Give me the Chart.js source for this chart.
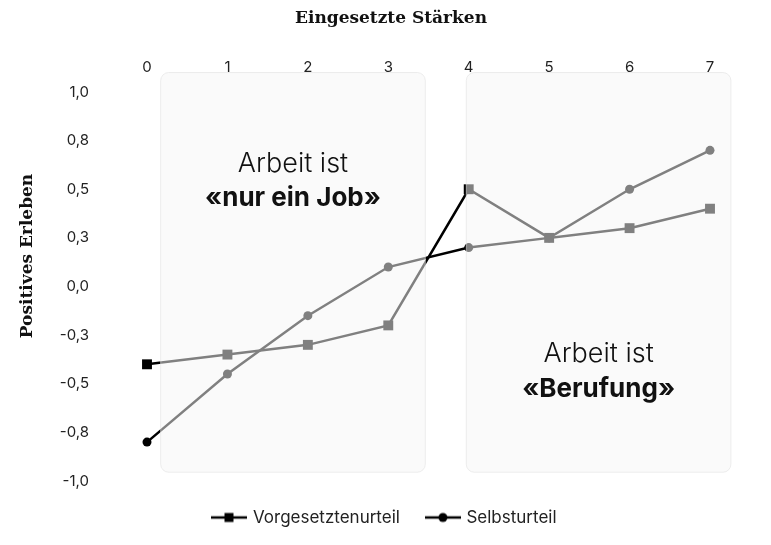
<!DOCTYPE html>
<html><head><meta charset="utf-8">
<script src="https://cdn.jsdelivr.net/npm/chart.js@4"></script>
<style>html,body{margin:0;padding:0;background:#fff;overflow:hidden}#wrap{width:771px;height:545px;position:relative}</style>
</head><body><div id="wrap"><canvas id="c" width="771" height="545"></canvas></div>
<script>
// ---- data ----
const categories = [0, 1, 2, 3, 4, 5, 6, 7];
const vorgesetztenurteil = [-0.40, -0.35, -0.30, -0.20, 0.50, 0.25, 0.30, 0.40];
const selbsturteil = [-0.80, -0.45, -0.15, 0.10, 0.20, 0.25, 0.50, 0.70];
const yTicks = [-1, -0.75, -0.5, -0.25, 0, 0.25, 0.5, 0.75, 1];
const seriesNames = ['Vorgesetztenurteil', 'Selbsturteil'];
const xTitle = 'Eingesetzte Stärken';
const yTitle = 'Positives Erleben';
const panelTexts = [['Arbeit ist', '«nur ein Job»'], ['Arbeit ist', '«Berufung»']];

// ---- decoration (panel extents in axis units) ----
const panels = [
  {x0: 0.17, x1: 3.46, y0: 1.10, y1: -0.955},
  {x0: 3.97, x1: 7.26, y0: 1.10, y1: -0.955}
];
const panelTextPos = [{x: 1.815, y1: 0.63, y2: 0.455}, {x: 5.615, y1: -0.345, y2: -0.53}];

const SANS = "Inter, 'Noto Sans', sans-serif";
const SERIF = "'DejaVu Serif', 'Liberation Serif', serif";

function legendIcon(kind) {
  const c = document.createElement('canvas');
  c.width = 36; c.height = 12;
  const g = c.getContext('2d');
  g.strokeStyle = '#000'; g.lineWidth = 2.5;
  g.beginPath(); g.moveTo(0, 6); g.lineTo(36, 6); g.stroke();
  g.fillStyle = '#000';
  if (kind === 'rect') g.fillRect(13, 1.5, 9, 9);
  else { g.beginPath(); g.arc(18, 6, 4.5, 0, Math.PI * 2); g.fill(); }
  return c;
}
const icons = [legendIcon('rect'), legendIcon('circle')];

const overlayPlugin = {
  id: 'overlay',
  afterDatasetsDraw(chart) {
    const ctx = chart.ctx, xs = chart.scales.x, ys = chart.scales.y;
    ctx.save();
    panels.forEach((p, i) => {
      const l = xs.getPixelForValue(p.x0), r = xs.getPixelForValue(p.x1);
      const t = ys.getPixelForValue(p.y0), b = ys.getPixelForValue(p.y1);
      ctx.beginPath();
      ctx.roundRect(l, t, r - l, b - t, 8);
      ctx.fillStyle = 'rgba(245,245,245,0.52)';
      ctx.fill();
      ctx.strokeStyle = 'rgba(225,225,225,0.6)';
      ctx.lineWidth = 1;
      ctx.stroke();
      const tp = panelTextPos[i];
      ctx.fillStyle = '#111';
      ctx.textAlign = 'center';
      ctx.textBaseline = 'middle';
      ctx.font = "300 27px " + SANS;
      ctx.fillText(panelTexts[i][0], xs.getPixelForValue(tp.x), ys.getPixelForValue(tp.y1));
      ctx.font = "bold 26px " + SANS;
      ctx.fillText(panelTexts[i][1], xs.getPixelForValue(tp.x), ys.getPixelForValue(tp.y2));
    });
    ctx.restore();
  },
  afterDraw(chart) {
    const ctx = chart.ctx;
    ctx.save();
    ctx.fillStyle = '#111';
    ctx.font = "bold 17px " + SERIF;
    ctx.textAlign = 'center';
    ctx.textBaseline = 'middle';
    ctx.fillText(xTitle, 391, 19);
    ctx.translate(28, 256);
    ctx.rotate(-Math.PI / 2);
    ctx.fillText(yTitle, 0, 0);
    ctx.restore();
  }
};

const mkData = arr => categories.map((c, i) => ({x: c, y: arr[i]}));

new Chart(document.getElementById('c'), {
  type: 'line',
  data: {
    datasets: [
      {label: seriesNames[0], data: mkData(vorgesetztenurteil), borderColor: '#000', backgroundColor: '#000',
       borderWidth: 2.5, pointStyle: 'rect', pointRadius: 7, pointBorderWidth: 0, tension: 0, clip: false},
      {label: seriesNames[1], data: mkData(selbsturteil), borderColor: '#000', backgroundColor: '#000',
       borderWidth: 2.5, pointStyle: 'circle', pointRadius: 4.5, pointBorderWidth: 0, tension: 0, clip: false}
    ]
  },
  options: {
    responsive: false,
    animation: false,
    devicePixelRatio: 1,
    layout: {padding: {left: 0, right: 0, top: 0, bottom: 9}},
    scales: {
      x: {
        type: 'linear', position: 'top', min: 0, max: 7,
        grid: {display: false}, border: {display: false},
        afterBuildTicks: s => { s.ticks = categories.map(v => ({value: v})); },
        afterFit: s => { s.height = 92; },
        ticks: {padding: 8, color: '#222', font: {family: SANS, size: 15}, callback: v => String(v)}
      },
      y: {
        type: 'linear', min: -1, max: 1,
        grid: {display: false}, border: {display: false},
        afterBuildTicks: s => { s.ticks = yTicks.map(v => ({value: v})); },
        afterFit: s => { s.width = 147; },
        ticks: {padding: 50, color: '#222', font: {family: SANS, size: 15},
                callback: v => v.toFixed(1).replace('.', ',')}
      },
      yRight: {
        type: 'linear', position: 'right', min: -1, max: 1,
        grid: {display: false}, border: {display: false},
        ticks: {display: false},
        afterFit: s => { s.width = 61; }
      }
    },
    plugins: {
      tooltip: {enabled: false},
      legend: {
        position: 'bottom',
        labels: {
          usePointStyle: true, pointStyleWidth: 30, padding: 28,
          color: '#222', font: {family: SANS, size: 17},
          generateLabels: chart => chart.data.datasets.map((d, i) => ({
            text: d.label, pointStyle: icons[i], fillStyle: '#000', strokeStyle: '#000',
            lineWidth: 0, hidden: false, datasetIndex: i, fontColor: '#222'
          }))
        }
      }
    }
  },
  plugins: [overlayPlugin]
});
</script>
</body></html>
